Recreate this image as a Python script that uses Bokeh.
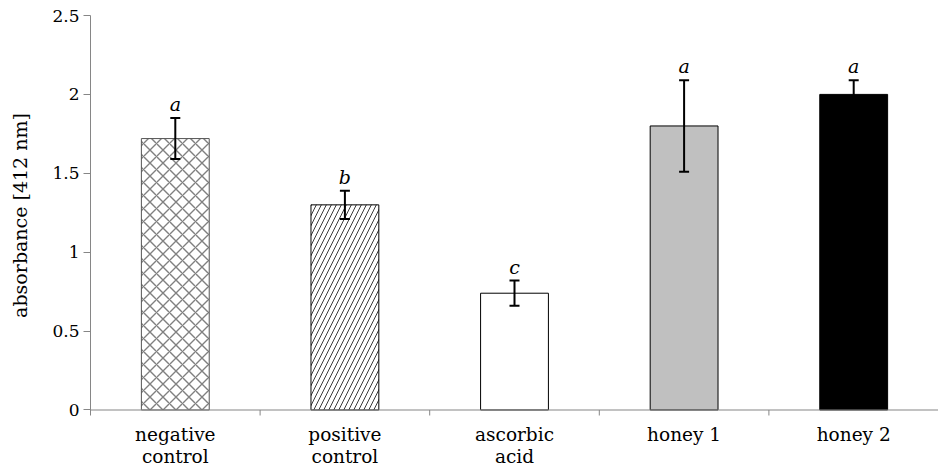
import math
from bokeh.plotting import figure
from bokeh.models import (Range1d, LinearAxis, FixedTicker, Span,
                          ColumnDataSource, Whisker, TeeHead)
from bokeh.core.properties import value
from bokeh.embed import file_html
from bokeh.resources import INLINE

# ---- data ----
categories = ["negative control", "positive control", "ascorbic acid", "honey 1", "honey 2"]
category_labels = ["negative\ncontrol", "positive\ncontrol", "ascorbic\nacid", "honey 1", "honey 2"]
absorbance = [1.72, 1.30, 0.74, 1.80, 2.00]
sd = [0.13, 0.09, 0.08, 0.29, 0.09]
letters = ["a", "b", "c", "a", "a"]
y_ticks = [0, 0.5, 1, 1.5, 2, 2.5]
y_tick_labels = ["0", "0.5", "1", "1.5", "2", "2.5"]
y_title = "absorbance [412 nm]"

# ---- styles ----
fills = ["white", "white", "white", "#c0c0c0", "black"]
hatches = ["x", "/", " ", " ", " "]
hatch_colors = ["#808080", "#3a3a3a", "black", "black", "black"]
hatch_scales = [13, 10, 6, 6, 6]
hatch_weights = [1.4, 1.0, 1, 1, 1]
outline = ["#555555", "black", "black", "black", "black"]

FONT = "DejaVu Serif"
AXIS_GRAY = "#868686"

n = len(categories)
centers = [i + 0.5 for i in range(n)]
bounds = list(range(1, n))

src = ColumnDataSource(dict(
    x=centers, top=absorbance,
    upper=[v + s for v, s in zip(absorbance, sd)],
    lower=[v - s for v, s in zip(absorbance, sd)],
    letters=letters, fill=fills, hatch=hatches, hcolor=hatch_colors,
    hscale=hatch_scales, hweight=hatch_weights, outline=outline,
))

p = figure(x_range=Range1d(0, n), y_range=Range1d(-0.035, 2.5),
           width=938, height=469, output_backend="svg", toolbar_location=None,
           x_axis_location=None, min_border_left=90, min_border_right=0,
           min_border_top=15, min_border_bottom=53)
p.outline_line_color = None
p.xgrid.visible = False
p.ygrid.visible = False
p.background_fill_color = "white"
p.border_fill_color = "white"

p.vbar(x="x", top="top", width=0.4, source=src, fill_color="fill",
       hatch_pattern="hatch", hatch_color="hcolor", hatch_scale="hscale",
       hatch_weight="hweight", line_color="outline", line_width=1)

# x-axis baseline at zero with category-boundary ticks
p.add_layout(Span(location=0, dimension="width", line_color=AXIS_GRAY, line_width=1.2))
p.ray(x=bounds, y=[0] * len(bounds), length=6, length_units="screen",
      angle=-math.pi / 2, line_color=AXIS_GRAY, line_width=1)

wh = Whisker(base="x", upper="upper", lower="lower", source=src,
             line_color="black", line_width=2, level="annotation",
             upper_head=TeeHead(size=10, line_width=2, line_color="black"),
             lower_head=TeeHead(size=10, line_width=2, line_color="black"))
p.add_layout(wh)

p.text(x="x", y="upper", text="letters", source=src, text_font=value(FONT),
       text_font_style="italic", text_font_size="19px", text_align="center",
       text_baseline="bottom", y_offset=-3, text_color="black")

# y axis
ya = p.yaxis[0]
ya.ticker = FixedTicker(ticks=y_ticks)
ya.major_label_overrides = dict(zip(y_ticks, y_tick_labels))
ya.major_tick_in = 0
ya.major_tick_out = 7
ya.minor_tick_line_color = None
ya.axis_line_color = AXIS_GRAY
ya.major_tick_line_color = AXIS_GRAY
ya.major_label_text_font = FONT
ya.major_label_text_font_size = "17px"
ya.major_label_text_color = "black"
ya.major_label_standoff = 4
ya.axis_label = y_title
ya.axis_label_text_font = FONT
ya.axis_label_text_font_size = "19px"
ya.axis_label_text_font_style = "normal"
ya.axis_label_text_color = "black"
ya.axis_label_standoff = 18

# x axis: category labels only
cx = LinearAxis(ticker=FixedTicker(ticks=centers),
                axis_line_color=None, major_tick_line_color=None,
                minor_tick_line_color=None,
                major_label_overrides=dict(zip(centers, category_labels)),
                major_label_text_font=FONT, major_label_text_font_size="18.5px",
                major_label_text_line_height=1.05,
                major_label_text_color="black", major_label_standoff=2)
p.add_layout(cx, "below")

open("out.html", "w").write(file_html(p, INLINE))
